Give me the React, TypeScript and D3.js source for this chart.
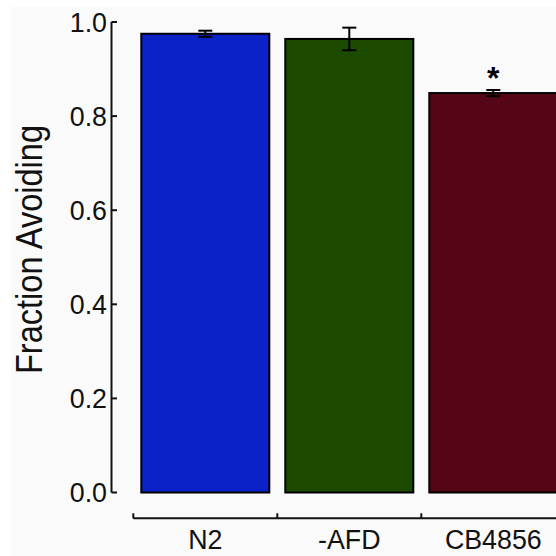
import React from "react";
import * as d3 from "d3";

const categories = ["N2", "-AFD", "CB4856"];
const means = [0.975, 0.964, 0.849];
const errors = [0.0065, 0.024, 0.0065];
const colors = ["#0a22c8", "#1c4b00", "#540616"];
const significant = [false, false, true];
const yTicks = [0, 0.2, 0.4, 0.6, 0.8, 1.0];
const yLabel = "Fraction Avoiding";

export default function App() {
  const W = 556, H = 556;
  const y = d3.scaleLinear().domain([0, 1]).range([492.5, 22]);
  const x = d3.scaleBand<string>().domain(categories).range([133.3, 565.3]).paddingInner(0.111).paddingOuter(0.0555);
  const step = x.step();
  const axisX = 111.5;
  const bottomY = 518.3;
  const font = "Arial, 'Liberation Sans', Helvetica, sans-serif";
  const bandEdges = categories.map((c) => (x(c) as number) - (step * 0.111) / 2);
  return (
    <svg width={W} height={H} style={{ position: "absolute", left: 0, top: 0 }} fontFamily={font}>
      <rect x={0} y={0} width={W} height={H} fill="#ffffff" />
      <rect x={11} y={7} width={W - 11} height={H - 7} fill="#fafafa" />
      {/* bars */}
      {categories.map((c, i) => (
        <rect key={c} x={x(c)} y={y(means[i])} width={x.bandwidth()} height={y(0) - y(means[i])}
          fill={colors[i]} stroke="#000" strokeWidth={2} />
      ))}
      {/* error bars */}
      {categories.map((c, i) => {
        const cx = (x(c) as number) + x.bandwidth() / 2;
        const t = y(means[i] + errors[i]);
        const b = y(means[i] - errors[i]);
        return (
          <g key={c + "e"} stroke="#000" strokeWidth={2}>
            <line x1={cx} x2={cx} y1={t} y2={b} />
            <line x1={cx - 7} x2={cx + 7} y1={t} y2={t} />
            <line x1={cx - 7} x2={cx + 7} y1={b} y2={b} />
          </g>
        );
      })}
      {categories.map((c, i) => significant[i] ? (
        <text key={c + "s"} x={(x(c) as number) + x.bandwidth() / 2} y={y(means[i] + errors[i])}
          dy={-1} textAnchor="middle" fontSize={32} fontWeight="bold">*</text>
      ) : null)}
      {/* y axis */}
      <line x1={axisX} x2={axisX} y1={y(1)} y2={y(0)} stroke="#111" strokeWidth={2} />
      {yTicks.map((t) => (
        <g key={t}>
          <line x1={axisX} x2={axisX + 5.5} y1={y(t)} y2={y(t)} stroke="#111" strokeWidth={2} />
          <text x={axisX - 4.5} y={y(t)} dy="0.36em" textAnchor="end" fontSize={26.8} fill="#111">{t.toFixed(1)}</text>
        </g>
      ))}
      <text transform={`translate(42,${(125 + 374) / 2}) rotate(-90)`} textAnchor="middle" fontSize={37}
        textLength={249} lengthAdjust="spacingAndGlyphs" fill="#111">{yLabel}</text>
      {/* x axis */}
      <line x1={bandEdges[0]} x2={W + 20} y1={bottomY} y2={bottomY} stroke="#111" strokeWidth={2} />
      {bandEdges.map((e, i) => (
        <line key={i} x1={e} x2={e} y1={bottomY} y2={bottomY - 5} stroke="#111" strokeWidth={2} />
      ))}
      {categories.map((c) => (
        <text key={c + "l"} x={(x(c) as number) + x.bandwidth() / 2} y={548.5} textAnchor="middle" fontSize={26.8} fill="#111">{c}</text>
      ))}
    </svg>
  );
}
